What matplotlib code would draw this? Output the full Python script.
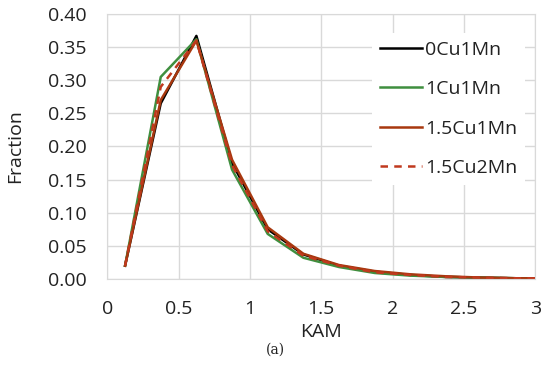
import matplotlib
matplotlib.use("Agg")
import matplotlib.pyplot as plt
import numpy as np

kam = [0.125, 0.375, 0.625, 0.875, 1.125, 1.375, 1.625, 1.875, 2.125, 2.375, 2.625, 2.875, 3.0]
s0cu1mn = [0.020, 0.265, 0.367, 0.175, 0.075, 0.037, 0.020, 0.011, 0.006, 0.003, 0.002, 0.001, 0.001]
s1cu1mn = [0.020, 0.305, 0.362, 0.165, 0.068, 0.032, 0.018, 0.009, 0.005, 0.003, 0.002, 0.001, 0.001]
s15cu1mn = [0.020, 0.270, 0.360, 0.180, 0.078, 0.038, 0.021, 0.012, 0.007, 0.004, 0.002, 0.001, 0.001]
s15cu2mn = [0.020, 0.290, 0.360, 0.172, 0.072, 0.035, 0.020, 0.010, 0.006, 0.003, 0.002, 0.001, 0.001]
labels = ["0Cu1Mn", "1Cu1Mn", "1.5Cu1Mn", "1.5Cu2Mn"]
xticks = [0, 0.5, 1, 1.5, 2, 2.5, 3]
xticklabels = ["0", "0.5", "1", "1.5", "2", "2.5", "3"]
yticks = [0.00, 0.05, 0.10, 0.15, 0.20, 0.25, 0.30, 0.35, 0.40]

plt.rcParams['font.family'] = ['Open Sans', 'DejaVu Sans']

fig = plt.figure(figsize=(5.5, 3.79), dpi=100)
ax = fig.add_axes([0.195, 0.264, 0.778, 0.699])

ax.plot(kam, s0cu1mn, color="black", lw=1.8, label=labels[0])
ax.plot(kam, s1cu1mn, color="#3f8f3f", lw=1.8, label=labels[1])
ax.plot(kam, s15cu1mn, color="#a8380f", lw=1.8, label=labels[2])
ax.plot(kam, s15cu2mn, color="#c0391e", lw=1.8, ls=(0, (3, 2.5)), label=labels[3])

ax.set_xlim(0, 3)
ax.set_ylim(0, 0.40)
ax.set_xticks(xticks)
ax.set_xticklabels(xticklabels)
ax.set_yticks(yticks)
ax.set_yticklabels([f"{v:.2f}" for v in yticks])
ax.grid(True, color="#d9d9d9", lw=1.0)
ax.set_axisbelow(True)
for sp in ax.spines.values():
    sp.set_color("#d9d9d9")
ax.tick_params(length=0, labelsize=14, colors="#222222")
ax.tick_params(axis="x", pad=15)
ax.tick_params(axis="y", pad=15)
ax.set_xlabel("KAM", fontsize=14, color="#222222", labelpad=4)
ax.set_ylabel("Fraction", fontsize=14, color="#222222", labelpad=17)

leg = ax.legend(loc="upper right", bbox_to_anchor=(1.0, 0.965), fontsize=14, frameon=True,
                fancybox=False, edgecolor="none", framealpha=1.0, handlelength=2.2,
                handletextpad=0.15, labelspacing=1.1, borderpad=0.4)
for t in leg.get_texts():
    t.set_color("#222222")

fig.text(0.5, 0.077, "(a)", ha="center", va="center", fontsize=10, family="DejaVu Serif", color="#222222")

fig.savefig("out.png", dpi=100)
